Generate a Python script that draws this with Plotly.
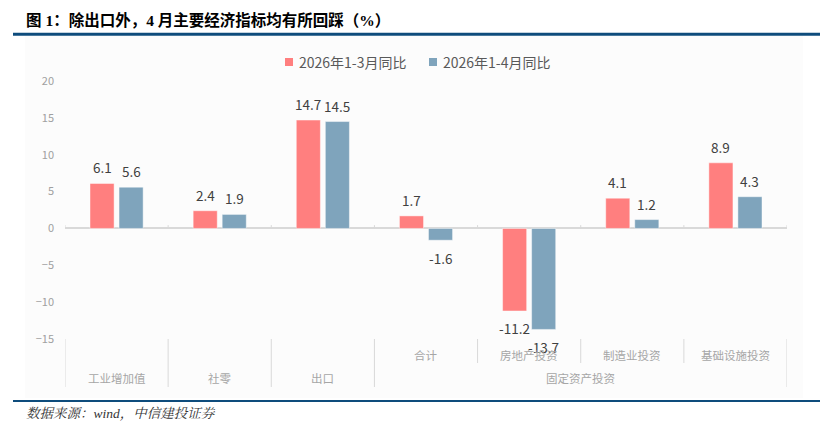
import plotly.graph_objects as go

# ---------------- data ----------------
categories = ["工业增加值", "社零", "出口", "合计", "房地产投资", "制造业投资", "基础设施投资"]
sub_labels = ["", "", "", "合计", "房地产投资", "制造业投资", "基础设施投资"]
group_labels = ["工业增加值", "社零", "出口", "固定资产投资"]
group_spans = [(0, 0), (1, 1), (2, 2), (3, 6)]
series_names = ["2026年1-3月同比", "2026年1-4月同比"]
values_q1 = [6.1, 2.4, 14.7, 1.7, -11.2, 4.1, 8.9]
values_jan_apr = [5.6, 1.9, 14.5, -1.6, -13.7, 1.2, 4.3]
y_ticks = [-15, -10, -5, 0, 5, 10, 15, 20]
colors = ["#FF7F7F", "#7FA4BC"]
title_text = "图 1：除出口外，4 月主要经济指标均有所回踩（%）"
source_text = "数据来源：wind，中信建投证券"

# ---------------- layout geometry ----------------
W, H = 820, 428
ML, MR, MT, MB = 65, 33, 81, 89
PW, PH = W - ML - MR, H - MT - MB


def px(xp):
    return (xp - ML) / PW


def py(yp):
    return 1 - (yp - MT) / PH


CJK = "Noto Sans CJK SC, Noto Sans, sans-serif"

fig = go.Figure()
for name, vals, col in zip(series_names, [values_q1, values_jan_apr], colors):
    fig.add_trace(go.Bar(
        x=categories, y=vals, name=name, showlegend=False,
        marker=dict(color=col, line=dict(color="rgba(255,255,255,0.45)", width=1)),
    ))

annotations = []
shapes = []

# value labels
for vals, shift in [(values_q1, -14.5), (values_jan_apr, 14.5)]:
    for c, v in zip(categories, vals):
        annotations.append(dict(
            x=c, y=v, xref="x", yref="y", text=f"{v}", showarrow=False,
            xshift=shift, yshift=16 if v >= 0 else -17.5,
            xanchor="center", yanchor="middle",
            font=dict(family=CJK, size=13.5, color="#404040"),
        ))

# background panel
shapes.append(dict(type="rect", xref="paper", yref="paper", x0=px(25), x1=px(803),
                   y0=py(398), y1=py(36), fillcolor="#FCFCFC", line=dict(width=0), layer="below"))

# top / bottom rules
shapes.append(dict(type="line", xref="paper", yref="paper", x0=px(13), x1=px(820),
                   y0=py(34.3), y1=py(34.3), line=dict(color="#0E4C7C", width=3)))
shapes.append(dict(type="line", xref="paper", yref="paper", x0=px(13), x1=px(820),
                   y0=py(401), y1=py(401), line=dict(color="#0E4C7C", width=2)))

n = len(categories)
# small ticks on zero line at boundaries
for i in range(n + 1):
    shapes.append(dict(type="line", xref="x", yref="y", x0=i - 0.5, x1=i - 0.5,
                       y0=0, y1=0.45, line=dict(color="#D9D9D9", width=1)))

# category dividers below plot
group_bounds = set()
for a, b in group_spans:
    group_bounds.add(a - 0.5)
    group_bounds.add(b + 0.5)
for i in range(n + 1):
    b = i - 0.5
    y_bottom = py(387) if b in group_bounds else py(363)
    shapes.append(dict(type="line", xref="x", yref="paper", x0=b, x1=b,
                       y0=y_bottom, y1=py(339), line=dict(color="#D9D9D9", width=1)))

# sub labels
for c, s in zip(categories, sub_labels):
    if s:
        annotations.append(dict(x=c, y=py(355), xref="x", yref="paper", text=s, showarrow=False,
                                xanchor="center", yanchor="middle",
                                font=dict(family=CJK, size=11.5, color="#A6A6A6")))
# group labels
for g, (a, b) in zip(group_labels, group_spans):
    annotations.append(dict(x=(a + b) / 2, y=py(378), xref="x", yref="paper", text=g, showarrow=False,
                            xanchor="center", yanchor="middle",
                            font=dict(family=CJK, size=11.5, color="#A6A6A6")))

# manual legend
for name, col, sq_x, tx_x in zip(series_names, colors, [285, 429], [297, 441]):
    shapes.append(dict(type="rect", xref="paper", yref="paper", x0=px(sq_x), x1=px(sq_x + 8),
                       y0=py(66), y1=py(58), fillcolor=col, line=dict(width=0)))
    annotations.append(dict(x=px(tx_x), y=py(62), xref="paper", yref="paper", text=name,
                            showarrow=False, xanchor="left", yanchor="middle",
                            font=dict(family=CJK, size=14, color="#595959")))

# title and source
annotations.append(dict(x=px(24), y=py(20), xref="paper", yref="paper", text=f"<b>{title_text}</b>",
                        showarrow=False, xanchor="left", yanchor="middle",
                        font=dict(family="Liberation Serif, Noto Sans CJK SC, serif", size=15.5, color="#000000")))
annotations.append(dict(x=px(24), y=py(413), xref="paper", yref="paper", text=f"<i>{source_text}</i>",
                        showarrow=False, xanchor="left", yanchor="middle",
                        font=dict(family="Liberation Serif, Noto Serif CJK SC, Noto Sans CJK SC, serif", size=13.5, color="#333333")))

fig.update_layout(
    width=W, height=H,
    margin=dict(l=ML, r=MR, t=MT, b=MB),
    paper_bgcolor="white", plot_bgcolor="rgba(0,0,0,0)",
    barmode="group", bargap=0.437, bargroupgap=0.17,
    showlegend=False,
    annotations=annotations, shapes=shapes,
    xaxis=dict(type="category", categoryorder="array", categoryarray=categories,
               range=[-0.5, n - 0.5], showticklabels=False, showgrid=False,
               showline=False, zeroline=False, ticks=""),
    yaxis=dict(range=[-15, 20], tickvals=y_ticks, showgrid=False, showline=False,
               zeroline=True, zerolinecolor="#D9D9D9", zerolinewidth=1.5,
               ticks="", ticklabelstandoff=10,
               tickfont=dict(family=CJK, size=11, color="#A0A0A0")),
)

fig.write_html("out.html")
